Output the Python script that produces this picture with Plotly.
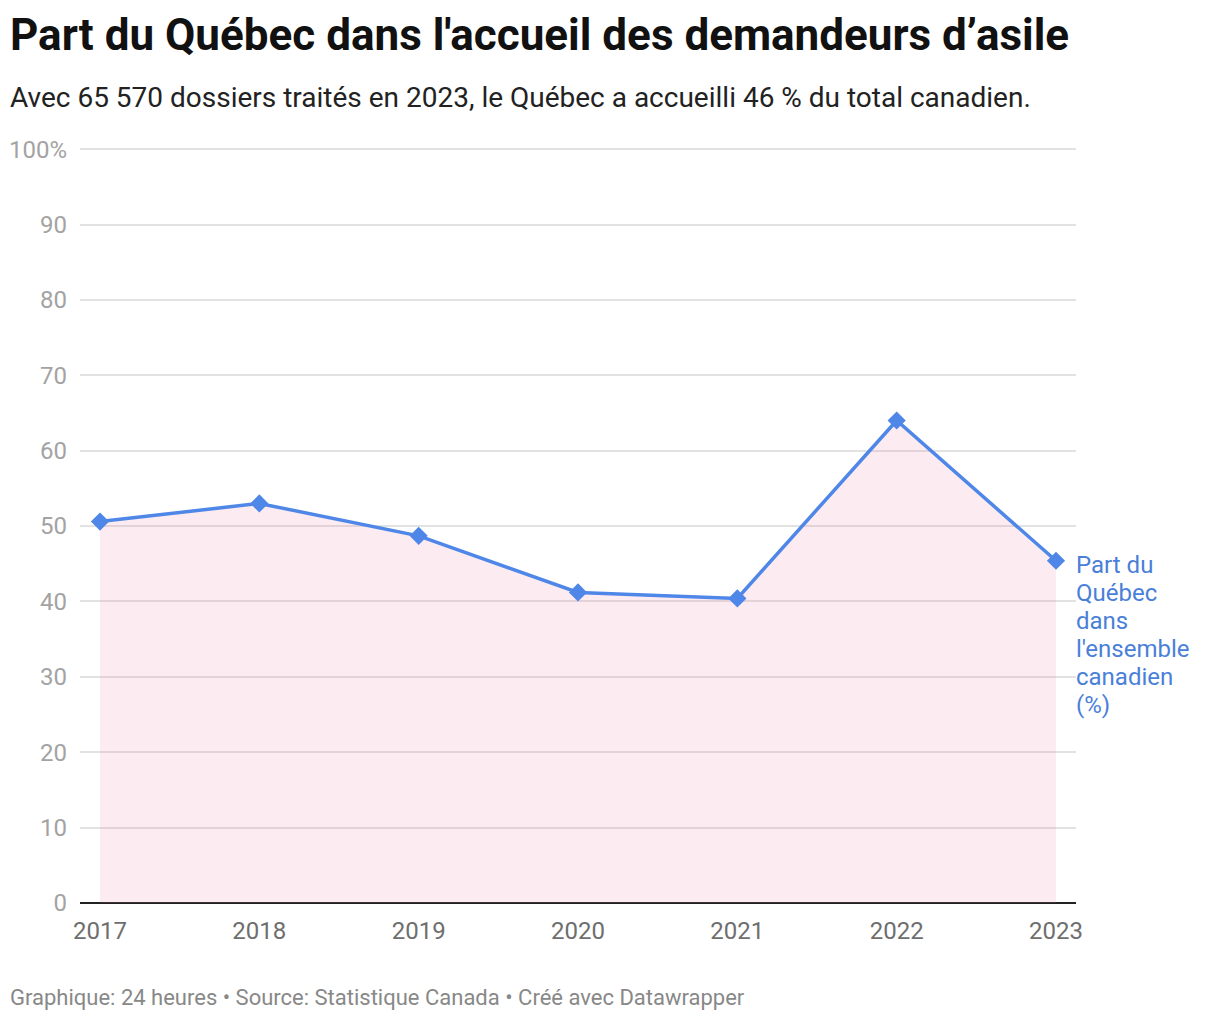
import plotly.graph_objects as go

years = [2017, 2018, 2019, 2020, 2021, 2022, 2023]
share = [50.6, 53.0, 48.7, 41.2, 40.4, 64.0, 45.4]
ytick_vals = [0, 10, 20, 30, 40, 50, 60, 70, 80, 90, 100]
ytick_text = ["0", "10", "20", "30", "40", "50", "60", "70", "80", "90", "100%"]
series_label_lines = ["Part du", "Québec", "dans", "l'ensemble", "canadien", "(%)"]

title = "Part du Québec dans l'accueil des demandeurs d’asile"
subtitle = "Avec 65 570 dossiers traités en 2023, le Québec a accueilli 46 % du total canadien."
footer = "Graphique: 24 heures • Source: Statistique Canada • Créé avec Datawrapper"

BLUE = "#4f87e8"
FONT = "Roboto"

fig = go.Figure()
fig.add_trace(go.Scatter(
    x=years, y=share, mode="lines+markers",
    line=dict(color=BLUE, width=3.5),
    marker=dict(symbol="diamond", size=14, color=BLUE),
    fill="tozeroy", fillcolor="rgba(236,120,160,0.15)",
    hoverinfo="x+y", showlegend=False,
))

for i, line in enumerate(series_label_lines):
    fig.add_annotation(
        x=years[-1], y=share[-1], xref="x", yref="y",
        text=line, showarrow=False,
        xanchor="left", yanchor="middle", align="left",
        xshift=18, yshift=-4 - 28 * i,
        font=dict(family=FONT, size=24, color="#4a7fd9"),
    )

fig.add_annotation(x=0, xref="paper", y=1, yref="paper", xshift=-72, yshift=113,
                   text="<b>" + title + "</b>", showarrow=False, xanchor="left", yanchor="middle",
                   font=dict(family=FONT, size=44, color="#111111"))
fig.add_annotation(x=0, xref="paper", y=1, yref="paper", xshift=-72, yshift=51,
                   text=subtitle, showarrow=False, xanchor="left", yanchor="middle",
                   font=dict(family=FONT, size=28, color="#222222"))
fig.add_annotation(x=0, xref="paper", y=0, yref="paper", xshift=-72, yshift=-94,
                   text=footer, showarrow=False, xanchor="left", yanchor="middle",
                   font=dict(family=FONT, size=22, color="#888888"))

fig.update_layout(
    width=1212, height=1012,
    margin=dict(l=72, r=144, t=140, b=117, autoexpand=False),
    paper_bgcolor="white", plot_bgcolor="white",
    font=dict(family=FONT),
)
fig.update_xaxes(
    range=[2016.8745, 2023.1255], tickvals=years, ticktext=[str(y) for y in years],
    showgrid=False, zeroline=False, showline=False, ticks="",
    tickfont=dict(family=FONT, size=24, color="#6e6e6e"),
    ticklabelstandoff=11,
)
fig.update_yaxes(
    range=[0, 100.15], tickvals=ytick_vals, ticktext=ytick_text,
    showgrid=True, gridcolor="#e2e2e2", gridwidth=1.5,
    zeroline=True, zerolinecolor="#222222", zerolinewidth=2,
    showline=False, ticks="",
    tickfont=dict(family=FONT, size=24, color="#a3a3a3"),
    ticklabelstandoff=12,
)

fig.write_html("out.html")
